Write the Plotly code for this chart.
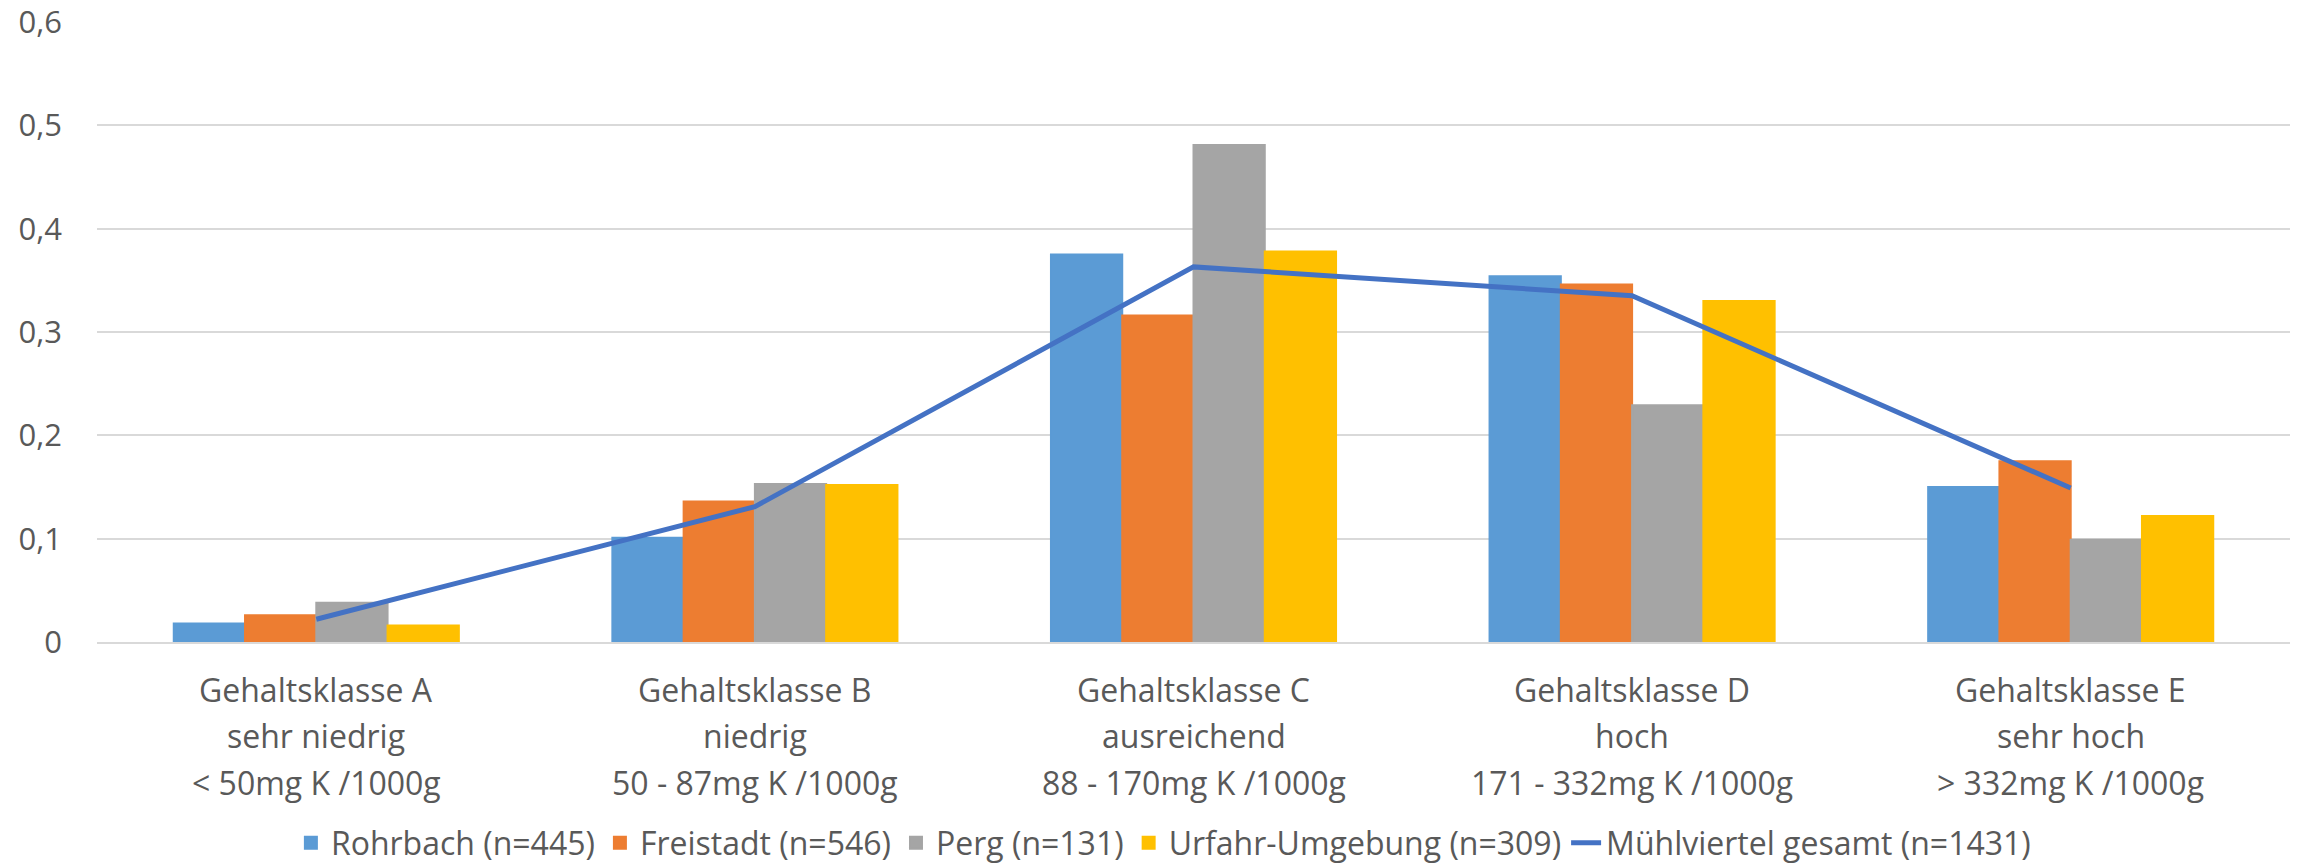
import plotly.graph_objects as go

categories = ["A", "B", "C", "D", "E"]
label_line1 = ["Gehaltsklasse A", "Gehaltsklasse B", "Gehaltsklasse C", "Gehaltsklasse D", "Gehaltsklasse E"]
label_line2 = ["sehr niedrig", "niedrig", "ausreichend", "hoch", "sehr hoch"]
label_line3 = ["< 50mg K /1000g", "50 - 87mg K /1000g", "88 - 170mg K /1000g",
               "171 - 332mg K /1000g", "> 332mg K /1000g"]

rohrbach = [0.018, 0.101, 0.375, 0.354, 0.150]
freistadt = [0.026, 0.136, 0.316, 0.346, 0.175]
perg = [0.038, 0.153, 0.481, 0.229, 0.099]
urfahr = [0.016, 0.152, 0.378, 0.330, 0.122]
gesamt = [0.022, 0.131, 0.363, 0.335, 0.149]

series_names = ["Rohrbach (n=445)", "Freistadt (n=546)", "Perg (n=131)", "Urfahr-Umgebung (n=309)"]
line_name = "Mühlviertel gesamt (n=1431)"
colors = ["#5B9BD5", "#ED7D31", "#A5A5A5", "#FFC000"]
line_color = "#4472C4"

y_ticks = [0, 0.1, 0.2, 0.3, 0.4, 0.5, 0.6]
y_ticktext = ["0", "0,1", "0,2", "0,3", "0,4", "0,5", "0,6"]

FONT = "Open Sans, sans-serif"
TXT = "#595959"

fig = go.Figure()
for name, vals, c in zip(series_names, [rohrbach, freistadt, perg, urfahr], colors):
    fig.add_trace(go.Bar(x=categories, y=vals, name=name,
                         marker=dict(color=c, line=dict(width=2, color=c))))
fig.add_trace(go.Scatter(x=categories, y=gesamt, name=line_name, mode="lines",
                         line=dict(color=line_color, width=5)))

for cat, l1, l2, l3 in zip(categories, label_line1, label_line2, label_line3):
    for i, t in enumerate([l1, l2, l3]):
        fig.add_annotation(x=cat, xref="x", y=0, yref="y", yshift=-47 - 46.5 * i,
                           text=t, showarrow=False, font=dict(size=32, color=TXT, family=FONT),
                           xanchor="center", yanchor="middle")

# the page body adds an 8px margin, so the figure is sized to fit the window
fig.update_layout(
    width=2297, height=859,
    margin=dict(l=89, r=15, t=14, b=225, autoexpand=False),
    paper_bgcolor="white", plot_bgcolor="white",
    barmode="group", bargap=0.35, bargroupgap=0,
    font=dict(family=FONT, size=32, color=TXT),
    legend=dict(orientation="h", x=0.503, xref="container", xanchor="center",
                y=0.028, yref="container", yanchor="middle",
                font=dict(size=32, color=TXT, family=FONT), itemwidth=30,
                traceorder="normal"),
    showlegend=True,
)
fig.update_xaxes(showticklabels=False, showline=True, linecolor="#D9D9D9", linewidth=2,
                 showgrid=False, ticks="")
fig.update_yaxes(range=[0, 0.6], tickvals=y_ticks, ticktext=y_ticktext, showgrid=True,
                 gridcolor="#D9D9D9", gridwidth=2, zeroline=False, showline=False,
                 tickfont=dict(size=31, color=TXT, family=FONT), ticklabelstandoff=34,
                 ticklabeloverflow="allow")

fig.write_html("out.html")
